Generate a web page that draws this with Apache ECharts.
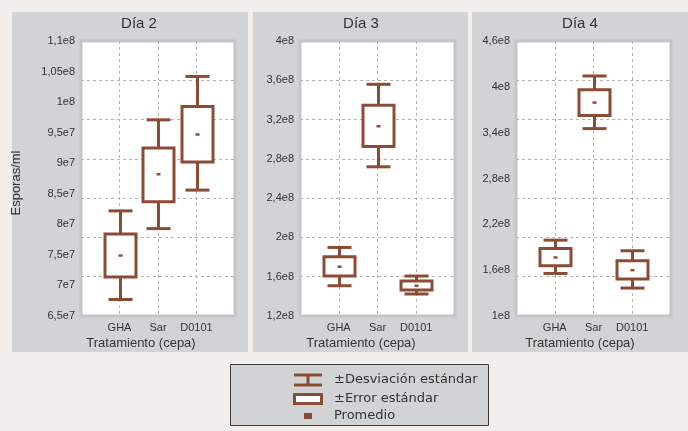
<!DOCTYPE html>
<html><head><meta charset="utf-8">
<script src="https://cdn.jsdelivr.net/npm/echarts@6/dist/echarts.min.js"></script>
<style>html,body{margin:0;padding:0;background:#f1eeeb;}#c{width:688px;height:431px;}</style>
</head><body><div id="c"></div><script>
const categories = ['GHA', 'Sar', 'D0101'];
const dayTitles = ['Día 2', 'Día 3', 'Día 4'];

// Día 2
const dia2SdHigh = [8.22e7, 9.71e7, 1.042e8];
const dia2SeHigh = [7.84e7, 9.25e7, 9.93e7];
const dia2Mean   = [7.49e7, 8.82e7, 9.47e7];
const dia2SeLow  = [7.14e7, 8.37e7, 9.02e7];
const dia2SdLow  = [6.77e7, 7.93e7, 8.56e7];
const dia2Range  = [6.5e7, 1.1e8];
const dia2Ticks  = ['6,5e7','7e7','7,5e7','8e7','8,5e7','9e7','9,5e7','1e8','1,05e8','1,1e8'];

// Día 3
const dia3SdHigh = [1.898e8, 3.559e8, 1.607e8];
const dia3SeHigh = [1.803e8, 3.346e8, 1.556e8];
const dia3Mean   = [1.702e8, 3.132e8, 1.508e8];
const dia3SeLow  = [1.607e8, 2.926e8, 1.464e8];
const dia3SdLow  = [1.508e8, 2.719e8, 1.424e8];
const dia3Range  = [1.2e8, 4e8];
const dia3Ticks  = ['1,2e8','1,6e8','2e8','2,4e8','2,8e8','3,2e8','3,6e8','4e8'];

// Día 4
const dia4SdHigh = [1.993e8, 4.142e8, 1.854e8];
const dia4SeHigh = [1.884e8, 3.963e8, 1.723e8];
const dia4Mean   = [1.766e8, 3.794e8, 1.600e8];
const dia4SeLow  = [1.657e8, 3.624e8, 1.484e8];
const dia4SdLow  = [1.557e8, 3.453e8, 1.366e8];
const dia4Range  = [1e8, 4.6e8];
const dia4Ticks  = ['1e8','1,6e8','2,2e8','2,8e8','3,4e8','4e8','4,6e8'];

const legendLabels = ['\u00B1Desviación estándar', '\u00B1Error estándar', 'Promedio'];

const BROWN = '#8b4c35';
const TEXT = '#333333';
const FONT = '"Liberation Sans", Arial, sans-serif';
const PANEL = '#d2d3d5';

const panels = [
  {sdH: dia2SdHigh, seH: dia2SeHigh, mean: dia2Mean, seL: dia2SeLow, sdL: dia2SdLow, range: dia2Range, ticks: dia2Ticks,
   grid: {left: 81, top: 41, width: 154, height: 275}, bg: [12, 248], titleX: 139},
  {sdH: dia3SdHigh, seH: dia3SeHigh, mean: dia3Mean, seL: dia3SeLow, sdL: dia3SdLow, range: dia3Range, ticks: dia3Ticks,
   grid: {left: 300, top: 41, width: 155, height: 275}, bg: [253, 468], titleX: 361},
  {sdH: dia4SdHigh, seH: dia4SeHigh, mean: dia4Mean, seL: dia4SeLow, sdL: dia4SdLow, range: dia4Range, ticks: dia4Ticks,
   grid: {left: 516, top: 41, width: 155, height: 275}, bg: [472, 690], titleX: 580}
];

function renderBox(params, api) {
  const x = api.value(0);
  const pHi = api.coord([x, api.value(1)]);
  const pSeHi = api.coord([x, api.value(2)]);
  const pMean = api.coord([x, api.value(3)]);
  const pSeLo = api.coord([x, api.value(4)]);
  const pLo = api.coord([x, api.value(5)]);
  const cx = Math.round(pHi[0]) + 0.5;
  const bw = 31, cw = 24;
  const ls = {stroke: BROWN, lineWidth: 3, lineCap: 'butt'};
  return {type: 'group', children: [
    {type: 'line', shape: {x1: cx, y1: pHi[1], x2: cx, y2: pLo[1]}, style: ls},
    {type: 'line', shape: {x1: cx - cw/2, y1: pHi[1], x2: cx + cw/2, y2: pHi[1]}, style: ls},
    {type: 'line', shape: {x1: cx - cw/2, y1: pLo[1], x2: cx + cw/2, y2: pLo[1]}, style: ls},
    {type: 'rect', shape: {x: cx - bw/2, y: pSeHi[1], width: bw, height: pSeLo[1] - pSeHi[1]},
     style: {fill: '#ffffff', stroke: BROWN, lineWidth: 3}},
    {type: 'rect', shape: {x: cx - 2, y: pMean[1] - 1.25, width: 4, height: 2.5}, style: {fill: BROWN}}
  ]};
}

const grids = [], xAxes = [], yAxes = [], series = [], graphics = [];
panels.forEach((p, i) => {
  grids.push(Object.assign({show: true, backgroundColor: '#ffffff', borderColor: '#c4c5c8', borderWidth: 3, containLabel: false}, p.grid));
  xAxes.push({
    type: 'value', gridIndex: i, min: 0, max: 4, interval: 1,
    axisLine: {show: false}, axisTick: {show: false},
    axisLabel: {margin: 6, fontSize: 11, color: TEXT, fontFamily: FONT,
      formatter: v => (v >= 1 && v <= 3) ? categories[v - 1] : ''},
    splitLine: {show: true, showMinLine: false, showMaxLine: false,
      lineStyle: {color: '#b5b5b5', type: [3, 3], width: 1}}
  });
  // data axis (hidden)
  yAxes.push({type: 'value', gridIndex: i, min: p.range[0], max: p.range[1], position: 'left',
    axisLine: {show: false}, axisTick: {show: false}, axisLabel: {show: false}, splitLine: {show: false}});
  // label axis
  yAxes.push({type: 'value', gridIndex: i, min: 0, max: p.ticks.length - 1, interval: 1, position: 'left',
    axisLine: {show: false}, axisTick: {show: false}, splitLine: {show: false},
    axisLabel: {margin: 6, fontSize: 11, color: TEXT, fontFamily: FONT,
      formatter: v => p.ticks[Math.round(v)]}});
  // grid-line axis (7 divisions)
  yAxes.push({type: 'value', gridIndex: i, min: 0, max: 7, interval: 1, position: 'right',
    axisLine: {show: false}, axisTick: {show: false}, axisLabel: {show: false},
    splitLine: {show: true, showMinLine: false, showMaxLine: false,
      lineStyle: {color: '#b5b5b5', type: [3, 3], width: 1}}});
  const data = categories.map((c, k) => [k + 1, p.sdH[k], p.seH[k], p.mean[k], p.seL[k], p.sdL[k]]);
  series.push({type: 'custom', xAxisIndex: i, yAxisIndex: i * 3, renderItem: renderBox, data: data,
    encode: {x: 0, y: [1, 2, 3, 4, 5]}, clip: false, z: 5});
  graphics.push({type: 'rect', z: -10, shape: {x: p.bg[0], y: 12, width: p.bg[1] - p.bg[0], height: 340}, style: {fill: PANEL}});
  graphics.push({type: 'text', z: 10, x: p.titleX, y: 24, style: {text: dayTitles[i], fill: TEXT, font: '15px ' + FONT, textAlign: 'center', textVerticalAlign: 'middle'}});
  graphics.push({type: 'text', z: 10, x: i === 0 ? 141 : p.titleX, y: 343, style: {text: 'Tratamiento (cepa)', fill: TEXT, font: '13px ' + FONT, textAlign: 'center', textVerticalAlign: 'middle'}});
});
graphics.push({type: 'text', z: 10, x: 16, y: 183, rotation: Math.PI / 2,
  style: {text: 'Esporas/ml', fill: TEXT, font: '13px ' + FONT, textAlign: 'center', textVerticalAlign: 'middle'}});

// legend
graphics.push({type: 'rect', z: 10, shape: {x: 230.5, y: 364.5, width: 258, height: 61}, style: {fill: PANEL, stroke: '#3a3a3a', lineWidth: 1}});
graphics.push({type: 'line', z: 11, shape: {x1: 294, y1: 375, x2: 322, y2: 375}, style: {stroke: BROWN, lineWidth: 3}});
graphics.push({type: 'line', z: 11, shape: {x1: 294, y1: 385, x2: 322, y2: 385}, style: {stroke: BROWN, lineWidth: 3}});
graphics.push({type: 'line', z: 11, shape: {x1: 308, y1: 375, x2: 308, y2: 385}, style: {stroke: BROWN, lineWidth: 3}});
graphics.push({type: 'rect', z: 11, shape: {x: 294.5, y: 394.5, width: 27, height: 9}, style: {fill: '#ffffff', stroke: BROWN, lineWidth: 3}});
graphics.push({type: 'rect', z: 11, shape: {x: 304, y: 413, width: 8, height: 6}, style: {fill: BROWN}});
[380, 399, 416].forEach((y, k) => {
  graphics.push({type: 'text', z: 11, x: 334, y: y, style: {text: legendLabels[k], fill: TEXT, font: '13px "DejaVu Sans", sans-serif', textAlign: 'left', textVerticalAlign: 'middle'}});
});

const chart = echarts.init(document.getElementById('c'), null, {renderer: 'canvas'});
chart.setOption({
  backgroundColor: '#f1eeeb',
  animation: false,
  grid: grids, xAxis: xAxes, yAxis: yAxes, series: series, graphic: graphics
});
</script></body></html>
